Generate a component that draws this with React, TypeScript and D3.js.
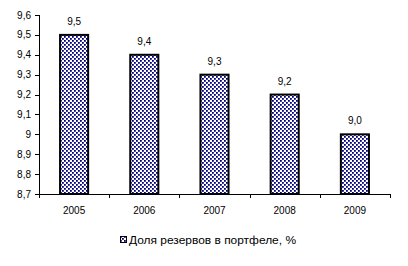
import React from "react";
import * as d3 from "d3";

const categories = ["2005", "2006", "2007", "2008", "2009"];
const values = [9.5, 9.4, 9.3, 9.2, 9.0];
const yTicks = [8.7, 8.8, 8.9, 9.0, 9.1, 9.2, 9.3, 9.4, 9.5, 9.6];
const seriesName = "Доля резервов в портфеле, %";

const fmtTick = (v: number) => (Math.abs(v - 9) < 1e-9 ? "9" : v.toFixed(1).replace(".", ","));
const fmtVal = (v: number) => v.toFixed(1).replace(".", ",");

export default function App() {
  const W = 408, H = 266;
  const left = 39, right = 390, top = 15, bottom = 194;
  const x = d3.scaleBand().domain(categories).range([left, right]).paddingInner(0.6).paddingOuter(0.3);
  const xb = d3.scaleBand().domain(categories).range([left, right]);
  const y = d3.scaleLinear().domain([8.7, 9.6]).range([bottom, top]);
  const font = "Arial, 'Liberation Sans', sans-serif";
  return (
    <svg width={W} height={H} style={{ position: "absolute", left: 0, top: 0, background: "#fff" }}>
      <defs>
        <pattern id="dots" width={4} height={4} patternUnits="userSpaceOnUse">
          <rect width={4} height={4} fill="#fff" />
          <rect x={0} y={0} width={1.8} height={1.8} fill="#000080" />
          <rect x={2} y={2} width={1.8} height={1.8} fill="#000080" />
        </pattern>
      </defs>
      {categories.map((c, i) => (
        <g key={c}>
          <rect
            x={x(c)!}
            y={y(values[i])}
            width={x.bandwidth()}
            height={bottom - y(values[i])}
            fill="url(#dots)"
            stroke="#000"
            strokeWidth={2}
          />
          <text x={x(c)! + x.bandwidth() / 2} y={y(values[i]) - 10} textAnchor="middle" fontFamily={font} fontSize={10}>
            {fmtVal(values[i])}
          </text>
          <text x={xb(c)! + xb.bandwidth() / 2} y={214} textAnchor="middle" fontFamily={font} fontSize={10}>
            {c}
          </text>
        </g>
      ))}
      <line x1={left + 0.5} x2={left + 0.5} y1={top} y2={bottom} stroke="#000" />
      <line x1={left} x2={right} y1={bottom + 0.5} y2={bottom + 0.5} stroke="#000" />
      {yTicks.map((t) => (
        <g key={t}>
          <line x1={left - 4} x2={left} y1={Math.round(y(t)) + 0.5} y2={Math.round(y(t)) + 0.5} stroke="#000" />
          <text x={31} y={y(t) + 3.5} textAnchor="end" fontFamily={font} fontSize={10}>
            {fmtTick(t)}
          </text>
        </g>
      ))}
      {[...categories.map((c) => xb(c)!), right].map((v, i) => (
        <line key={i} x1={Math.round(v) + 0.5} x2={Math.round(v) + 0.5} y1={bottom} y2={bottom + 4} stroke="#000" />
      ))}
      <rect x={120.5} y={236.5} width={6} height={6} fill="url(#dots)" stroke="#000" strokeWidth={1} />
      <text x={129} y={243.5} fontFamily={font} fontSize={11.5} textLength={167} lengthAdjust="spacingAndGlyphs">
        {seriesName}
      </text>
    </svg>
  );
}
